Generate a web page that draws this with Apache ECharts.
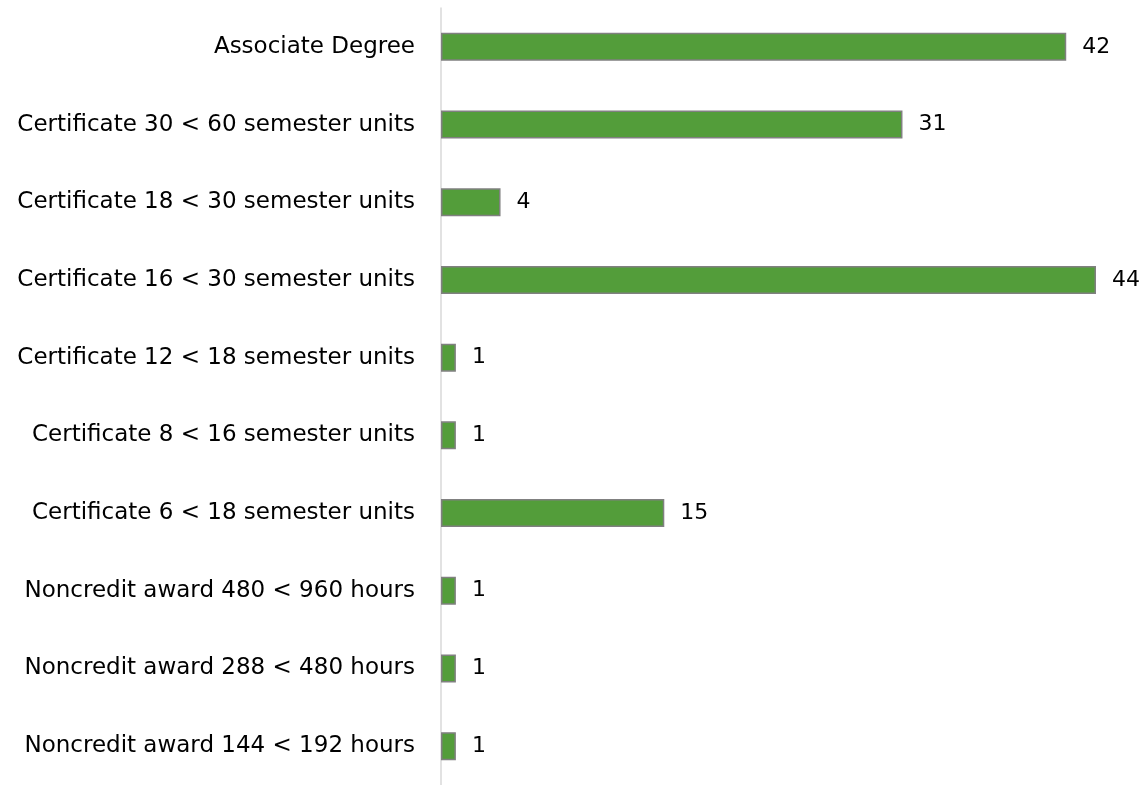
<!DOCTYPE html>
<html><head><meta charset="utf-8">
<script src="https://cdn.jsdelivr.net/npm/echarts@6/dist/echarts.min.js"></script>
<style>html,body{margin:0;padding:0;background:#fff}#c{width:1148px;height:785px}</style>
</head><body><div id="c"></div>
<script>
const categories = [
  "Associate Degree",
  "Certificate 30 < 60 semester units",
  "Certificate 18 < 30 semester units",
  "Certificate 16 < 30 semester units",
  "Certificate 12 < 18 semester units",
  "Certificate 8 < 16 semester units",
  "Certificate 6 < 18 semester units",
  "Noncredit award 480 < 960 hours",
  "Noncredit award 288 < 480 hours",
  "Noncredit award 144 < 192 hours"
];
const values = [42, 31, 4, 44, 1, 1, 15, 1, 1, 1];
const FONT = "DejaVu Sans";
const chart = echarts.init(document.getElementById('c'));
chart.setOption({
  animation: false,
  grid: {left: 441, right: 52, top: 8, bottom: -5, containLabel: false},
  xAxis: {type: 'value', min: 0, max: 44, show: false},
  yAxis: {
    type: 'category', data: categories, inverse: true,
    axisLine: {show: true, lineStyle: {color: '#d9d9d9', width: 1.5}},
    axisTick: {show: false},
    axisLabel: {color: '#000', fontSize: 23, fontFamily: FONT, margin: 26}
  },
  series: [{
    type: 'bar', data: values, barWidth: 28,
    itemStyle: {color: '#539d3a', borderColor: '#808080', borderWidth: 1.5},
    label: {show: true, position: 'right', distance: 16, color: '#000', fontSize: 22, fontFamily: FONT}
  }]
});
</script></body></html>
